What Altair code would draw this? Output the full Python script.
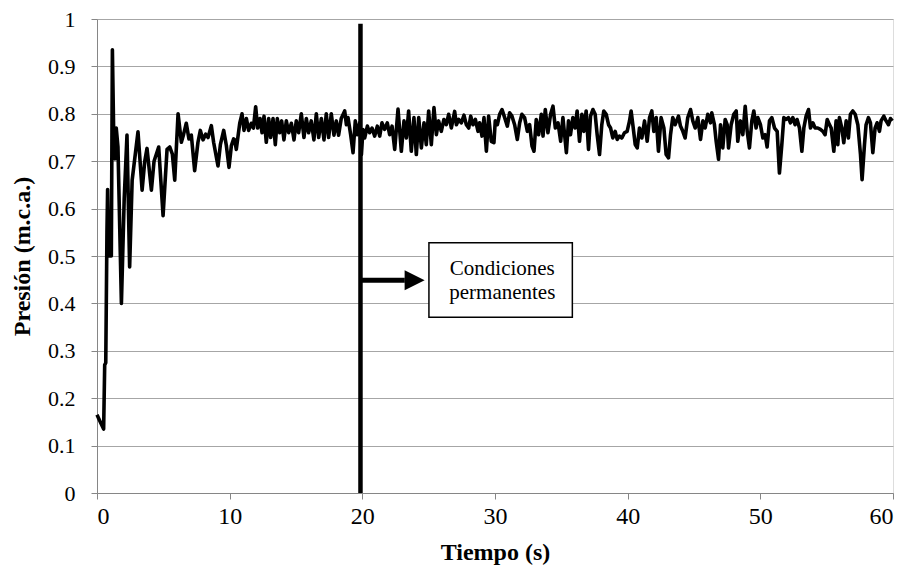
import altair as alt
import pandas as pd

# Transitorio inicial (0 - 10.4 s)
t_inicio = [0.00, 0.25, 0.50, 0.58, 0.66, 0.75, 0.80, 0.88, 1.08, 1.16, 1.28, 1.36, 1.45, 1.58,
            1.84, 2.05, 2.26, 2.46, 2.65, 3.09, 3.40, 3.60, 3.77, 4.10, 4.30, 4.65, 4.98, 5.28,
            5.48, 5.68, 5.86, 6.11, 6.36, 6.53, 6.73, 6.93, 7.11, 7.36, 7.61, 7.79, 7.99, 8.19,
            8.37, 8.62, 8.79, 9.12, 9.30, 9.55, 9.75, 9.95, 10.13, 10.30]
p_inicio = [0.165, 0.150, 0.135, 0.270, 0.275, 0.550, 0.640, 0.500, 0.500, 0.935, 0.720, 0.705,
            0.770, 0.730, 0.400, 0.620, 0.755, 0.477, 0.660, 0.762, 0.639, 0.700, 0.727, 0.639,
            0.700, 0.730, 0.585, 0.725, 0.730, 0.715, 0.660, 0.800, 0.740, 0.757, 0.780, 0.747,
            0.755, 0.680, 0.740, 0.765, 0.745, 0.757, 0.750, 0.775, 0.740, 0.690, 0.735, 0.765,
            0.733, 0.687, 0.733, 0.747]

# 10.4 - 18.5 s
t_a = [10.38, 10.50, 10.76, 10.93, 11.08, 11.26, 11.43, 11.63, 11.79, 11.96, 12.11, 12.29, 12.44,
       12.59, 12.76, 12.94, 13.09, 13.27, 13.44, 13.59, 13.77, 13.92, 14.09, 14.27, 14.45, 14.65,
       14.85, 15.02, 15.20, 15.40, 15.60, 15.78, 15.95, 16.15, 16.35, 16.53, 16.71, 16.91, 17.11,
       17.28, 17.46, 17.66, 17.86, 18.04, 18.21, 18.41]
p_a = [0.745, 0.725, 0.780, 0.800, 0.765, 0.790, 0.765, 0.780, 0.770, 0.815, 0.770, 0.790, 0.760,
       0.795, 0.740, 0.790, 0.750, 0.790, 0.735, 0.790, 0.760, 0.785, 0.745, 0.785, 0.760, 0.780,
       0.745, 0.785, 0.760, 0.800, 0.750, 0.790, 0.760, 0.785, 0.745, 0.800, 0.750, 0.790, 0.745,
       0.800, 0.750, 0.800, 0.755, 0.785, 0.755, 0.790]

# 18.7 - 26.8 s
t_b = [18.67, 18.80, 18.92, 19.12, 19.30, 19.47, 19.62, 19.80, 19.93, 20.05, 20.18, 20.38, 20.55,
       20.73, 20.93, 21.13, 21.31, 21.48, 21.68, 21.88, 22.06, 22.24, 22.44, 22.69, 22.94, 23.14,
       23.32, 23.49, 23.69, 23.89, 24.07, 24.25, 24.45, 24.65, 24.82, 25.00, 25.20, 25.40, 25.58,
       25.75, 25.95, 26.15, 26.33, 26.51, 26.71]
p_b = [0.806, 0.777, 0.792, 0.756, 0.718, 0.785, 0.756, 0.781, 0.714, 0.767, 0.749, 0.774, 0.760,
       0.770, 0.753, 0.774, 0.753, 0.781, 0.767, 0.781, 0.756, 0.774, 0.725, 0.810, 0.721, 0.785,
       0.749, 0.806, 0.721, 0.792, 0.714, 0.792, 0.728, 0.781, 0.735, 0.806, 0.735, 0.813, 0.756,
       0.785, 0.763, 0.788, 0.777, 0.799, 0.770]

# 27 - 35.5 s
t_c = [26.96, 27.09, 27.26, 27.46, 27.66, 27.84, 28.02, 28.17, 28.34, 28.52, 28.72, 28.84, 29.02,
       29.17, 29.35, 29.52, 29.72, 29.92, 30.02, 30.18, 30.35, 30.53, 30.73, 30.93, 31.10, 31.28,
       31.48, 31.68, 31.86, 32.03, 32.23, 32.44, 32.61, 32.79, 32.94, 33.11, 33.29, 33.49, 33.62,
       33.79, 33.99, 34.19, 34.37, 34.55, 34.75, 34.95, 35.12, 35.38]
p_c = [0.805, 0.777, 0.788, 0.781, 0.797, 0.777, 0.770, 0.795, 0.777, 0.788, 0.763, 0.781, 0.753,
       0.792, 0.721, 0.795, 0.742, 0.739, 0.785, 0.777, 0.799, 0.809, 0.792, 0.774, 0.802, 0.795,
       0.777, 0.746, 0.781, 0.799, 0.792, 0.763, 0.777, 0.732, 0.721, 0.788, 0.756, 0.799, 0.753,
       0.809, 0.760, 0.799, 0.816, 0.770, 0.781, 0.742, 0.792, 0.718]

# 35.5 - 43.8 s
t_d = [35.54, 35.69, 35.87, 36.04, 36.19, 36.37, 36.55, 36.70, 36.87, 37.05, 37.20, 37.38, 37.55,
       37.70, 37.88, 38.05, 38.20, 38.38, 38.56, 38.71, 38.88, 39.06, 39.21, 39.38, 39.56, 39.76,
       39.96, 40.14, 40.26, 40.39, 40.57, 40.72, 40.89, 41.07, 41.27, 41.47, 41.65, 41.82, 41.97,
       42.15, 42.32, 42.52, 42.73, 42.90, 43.08, 43.23, 43.40, 43.58]
p_d = [0.785, 0.756, 0.792, 0.770, 0.806, 0.742, 0.799, 0.763, 0.806, 0.725, 0.795, 0.809, 0.799,
       0.756, 0.714, 0.777, 0.806, 0.799, 0.777, 0.770, 0.749, 0.763, 0.746, 0.753, 0.749, 0.760,
       0.763, 0.785, 0.806, 0.777, 0.735, 0.728, 0.770, 0.749, 0.785, 0.742, 0.792, 0.806, 0.763,
       0.792, 0.721, 0.792, 0.770, 0.714, 0.707, 0.756, 0.792, 0.777]

# 43.8 - 52.1 s
t_e = [43.83, 43.98, 44.16, 44.33, 44.53, 44.74, 44.91, 45.09, 45.29, 45.49, 45.67, 45.84, 46.04,
       46.24, 46.34, 46.54, 46.67, 46.85, 47.00, 47.17, 47.35, 47.50, 47.60, 47.80, 48.00, 48.18,
       48.30, 48.50, 48.68, 48.86, 49.01, 49.18, 49.36, 49.51, 49.68, 49.81, 50.01, 50.19, 50.36,
       50.51, 50.69, 50.87, 51.07, 51.27, 51.44, 51.62, 51.77, 51.95]
p_e = [0.795, 0.774, 0.763, 0.749, 0.792, 0.809, 0.785, 0.770, 0.792, 0.746, 0.785, 0.770, 0.799,
       0.781, 0.802, 0.777, 0.742, 0.704, 0.777, 0.728, 0.788, 0.777, 0.728, 0.777, 0.799, 0.806,
       0.742, 0.785, 0.756, 0.816, 0.763, 0.728, 0.785, 0.806, 0.770, 0.792, 0.777, 0.749, 0.756,
       0.730, 0.785, 0.792, 0.770, 0.763, 0.675, 0.735, 0.792, 0.788]

# 52.1 - 60 s
t_f = [52.12, 52.27, 52.45, 52.62, 52.77, 52.95, 53.13, 53.28, 53.45, 53.63, 53.78, 53.96, 54.13,
       54.33, 54.53, 54.71, 54.88, 55.04, 55.21, 55.34, 55.54, 55.71, 55.84, 55.96, 56.14, 56.29,
       56.47, 56.64, 56.79, 56.97, 57.15, 57.35, 57.55, 57.67, 57.85, 57.97, 58.15, 58.30, 58.48,
       58.65, 58.80, 58.98, 59.10, 59.31, 59.48, 59.66, 59.81, 59.95]
p_f = [0.792, 0.781, 0.792, 0.777, 0.788, 0.770, 0.721, 0.770, 0.795, 0.809, 0.770, 0.781, 0.770,
       0.770, 0.767, 0.763, 0.756, 0.788, 0.777, 0.770, 0.721, 0.785, 0.735, 0.792, 0.770, 0.739,
       0.785, 0.749, 0.799, 0.806, 0.799, 0.777, 0.714, 0.661, 0.735, 0.777, 0.792, 0.781, 0.718,
       0.770, 0.781, 0.763, 0.785, 0.795, 0.785, 0.777, 0.790, 0.785]

tiempo = t_inicio + t_a + t_b + t_c + t_d + t_e + t_f
presion = p_inicio + p_a + p_b + p_c + p_d + p_e + p_f

x_ticks = [0, 10, 20, 30, 40, 50, 60]
y_ticks = [0, 0.1, 0.2, 0.3, 0.4, 0.5, 0.6, 0.7, 0.8, 0.9, 1.0]

# Annotation (data coordinates)
t_regimen = 19.86
vline_top = 0.99
arrow_y = 0.449
arrow_end = 23.2
arrow_head_t = 23.94
box_t = [25.02, 35.83]
box_p = [0.371, 0.528]
text_lines = ["Condiciones", "permanentes"]
text_t = 30.55
text_p = [0.459, 0.410]

FONT = "Liberation Serif"

df = pd.DataFrame({"t": tiempo, "p": presion})

xs = alt.Scale(domain=[0, 60], nice=False)
ys = alt.Scale(domain=[0, 1], nice=False)

base_x = alt.X("t:Q", scale=xs,
               axis=alt.Axis(values=x_ticks, title="Tiempo (s)", grid=False,
                             format="d", labelPadding=5, titlePadding=12,
                             labelFontSize=24))
base_y = alt.Y("p:Q", scale=ys,
               axis=alt.Axis(values=y_ticks, title="Presión (m.c.a.)", grid=True,
                             format=".1~f", labelPadding=16, titlePadding=13,
                             labelFontSize=22))

line = alt.Chart(df).mark_line(color="black", strokeWidth=3.6, strokeJoin="round").encode(
    x=base_x, y=base_y)

vdf = pd.DataFrame({"t": [t_regimen], "p0": [0.0], "p1": [vline_top]})
vline = alt.Chart(vdf).mark_rule(color="black", strokeWidth=4.5).encode(
    x=alt.X("t:Q", scale=xs), y=alt.Y("p0:Q", scale=ys), y2="p1:Q")

adf = pd.DataFrame({"t0": [t_regimen], "t1": [arrow_end], "p": [arrow_y]})
arrow = alt.Chart(adf).mark_rule(color="black", strokeWidth=5).encode(
    x=alt.X("t0:Q", scale=xs), x2="t1:Q", y=alt.Y("p:Q", scale=ys))

hdf = pd.DataFrame({"t": [arrow_head_t], "p": [arrow_y]})
head = alt.Chart(hdf).mark_point(shape="M-1,-1L1,0L-1,1Z", filled=True, color="black",
                                 size=400, opacity=1).encode(
    x=alt.X("t:Q", scale=xs), y=alt.Y("p:Q", scale=ys))

bdf = pd.DataFrame({"t0": [box_t[0]], "t1": [box_t[1]], "p0": [box_p[0]], "p1": [box_p[1]]})
box = alt.Chart(bdf).mark_rect(fill="white", stroke="black", strokeWidth=1.5).encode(
    x=alt.X("t0:Q", scale=xs), x2="t1:Q", y=alt.Y("p0:Q", scale=ys), y2="p1:Q")

tdf = pd.DataFrame({"t": [text_t, text_t], "p": text_p, "txt": text_lines})
txt = alt.Chart(tdf).mark_text(font=FONT, fontSize=21, color="black", align="center",
                               baseline="alphabetic").encode(
    x=alt.X("t:Q", scale=xs), y=alt.Y("p:Q", scale=ys), text="txt:N")

chart = alt.layer(line, vline, arrow, head, box, txt).properties(
    width=796, height=474,
    autosize=alt.AutoSizeParams(type="none"),
    padding={"left": 89, "top": 11, "right": 8, "bottom": 73},
).configure_view(stroke=None).configure(
    background="white", font=FONT
).configure_axis(
    labelFont=FONT, titleFont=FONT, titleFontSize=24,
    titleFontWeight="bold", labelColor="black", titleColor="black",
    domainColor="#868686", tickColor="#868686", tickSize=6,
    gridColor="#A6A6A6", gridWidth=1
).configure_text(font=FONT)

chart.save("out.html", embed_options={"renderer": "svg", "actions": False})
